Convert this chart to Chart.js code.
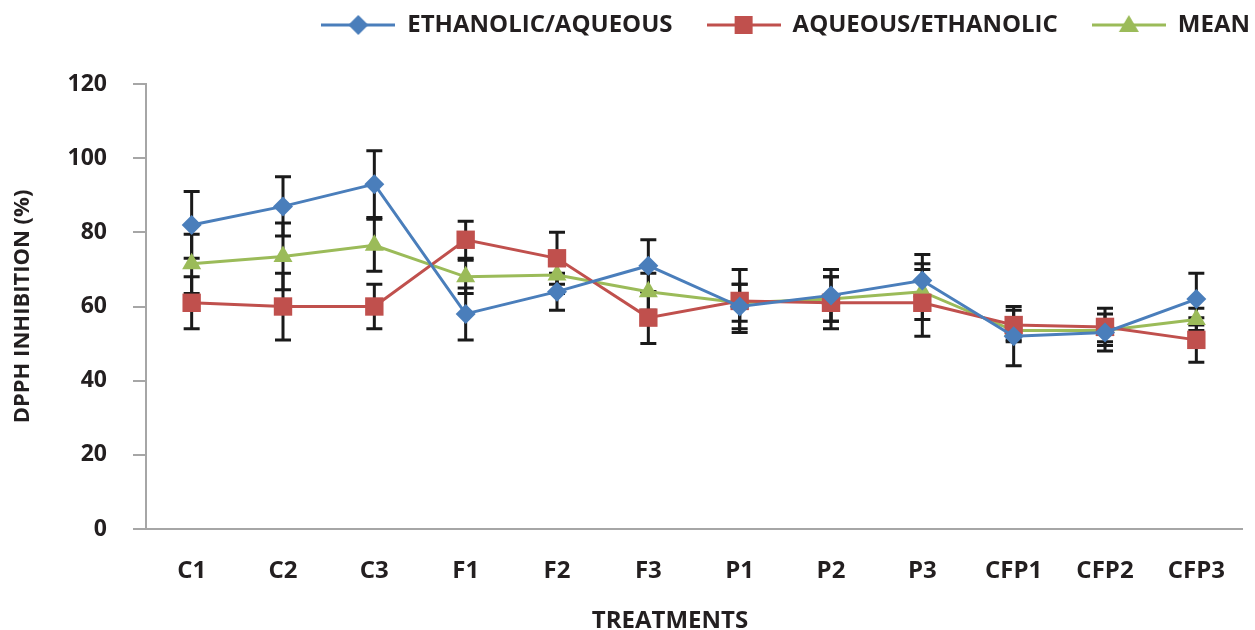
<!DOCTYPE html>
<html>
<head>
<meta charset="utf-8">
<script src="https://cdn.jsdelivr.net/npm/chart.js@4.4.1/dist/chart.umd.min.js"></script>
<style>
  html, body { margin: 0; padding: 0; background: #ffffff; }
  #wrap { width: 1255px; height: 630px; position: relative; }
</style>
</head>
<body>
<div id="wrap"><canvas id="dpph-chart"></canvas></div>
<script>
// Data
const treatments = ['C1', 'C2', 'C3', 'F1', 'F2', 'F3', 'P1', 'P2', 'P3', 'CFP1', 'CFP2', 'CFP3'];
const ethanolicAqueous = [82, 87, 93, 58, 64, 71, 60, 63, 67, 52, 53, 62];
const ethanolicAqueousErr = [9, 8, 9, 7, 5, 7, 6, 7, 7, 8, 5, 7];
const aqueousEthanolic = [61, 60, 60, 78, 73, 57, 61.5, 61, 61, 55, 54.5, 51];
const aqueousEthanolicErr = [7, 9, 6, 5, 7, 7, 8.5, 7, 9, 4, 5, 6];
const meanValues = [71.5, 73.5, 76.5, 68, 68.5, 64, 61, 62, 64, 53.5, 53.5, 56.5];
const meanErr = [8, 9, 7, 4.5, 5, 5, 5, 6, 7.5, 3, 3, 3];
const yTicks = [0, 20, 40, 60, 80, 100, 120];

const BLUE = '#4a7ebb';
const RED = '#c0504d';
const GREEN = '#9bbb59';
const TEXT = '#231f20';
const AXIS = '#a6a6a6';
const FONT = "'Open Sans', 'DejaVu Sans', sans-serif";

// small canvas with a line segment and the marker, used as legend symbol
function legendSwatch(color, shape) {
  const c = document.createElement('canvas');
  c.width = 74;
  c.height = 26;
  const ctx = c.getContext('2d');
  ctx.strokeStyle = color;
  ctx.fillStyle = color;
  ctx.lineWidth = 3;
  ctx.beginPath();
  ctx.moveTo(0, 13);
  ctx.lineTo(74, 13);
  ctx.stroke();
  ctx.beginPath();
  if (shape === 'diamond') {
    ctx.moveTo(37, 3); ctx.lineTo(47, 13); ctx.lineTo(37, 23); ctx.lineTo(27, 13);
  } else if (shape === 'square') {
    ctx.rect(28, 4, 18, 18);
  } else {
    ctx.moveTo(37, 3); ctx.lineTo(47, 20); ctx.lineTo(27, 20);
  }
  ctx.closePath();
  ctx.fill();
  return c;
}

const swatches = [legendSwatch(BLUE, 'diamond'), legendSwatch(RED, 'square'), legendSwatch(GREEN, 'triangle')];
const errors = [ethanolicAqueousErr, aqueousEthanolicErr, meanErr];

// draws the black error bars with caps under the markers
const errorBars = {
  id: 'errorBars',
  beforeDatasetsDraw(chart) {
    const ctx = chart.ctx;
    const y = chart.scales.y;
    ctx.save();
    ctx.strokeStyle = '#1a1a1a';
    ctx.lineWidth = 3;
    chart.data.datasets.forEach((ds, i) => {
      const meta = chart.getDatasetMeta(i);
      meta.data.forEach((pt, j) => {
        const v = ds.data[j];
        const e = errors[i][j];
        const top = y.getPixelForValue(v + e);
        const bottom = y.getPixelForValue(v - e);
        ctx.beginPath();
        ctx.moveTo(pt.x, top);
        ctx.lineTo(pt.x, bottom);
        ctx.moveTo(pt.x - 8, top);
        ctx.lineTo(pt.x + 8, top);
        ctx.moveTo(pt.x - 8, bottom);
        ctx.lineTo(pt.x + 8, bottom);
        ctx.stroke();
      });
    });
    ctx.restore();
  }
};

// the legend sits in the top right corner, above the plot
const legendShift = {
  id: 'legendShift',
  beforeInit(chart) {
    const legend = chart.legend;
    const draw = legend.draw;
    legend.draw = function () {
      chart.ctx.save();
      chart.ctx.translate(40, -37);
      draw.apply(this, arguments);
      chart.ctx.restore();
    };
  }
};

const ctx = document.getElementById('dpph-chart').getContext('2d');
const chart = new Chart(ctx, {
  type: 'line',
  data: {
    labels: treatments,
    datasets: [
      {
        label: 'ETHANOLIC/AQUEOUS',
        data: ethanolicAqueous,
        borderColor: BLUE,
        backgroundColor: BLUE,
        borderWidth: 3,
        pointStyle: 'rectRot',
        pointRadius: 10,
        pointBorderWidth: 0
      },
      {
        label: 'AQUEOUS/ETHANOLIC',
        data: aqueousEthanolic,
        borderColor: RED,
        backgroundColor: RED,
        borderWidth: 3,
        pointStyle: 'rect',
        pointRadius: 13,
        pointBorderWidth: 0
      },
      {
        label: 'MEAN',
        data: meanValues,
        borderColor: GREEN,
        backgroundColor: GREEN,
        borderWidth: 3,
        pointStyle: 'triangle',
        pointRadius: 11,
        pointBorderWidth: 0
      }
    ]
  },
  options: {
    responsive: true,
    maintainAspectRatio: false,
    animation: false,
    layout: {
      padding: { top: 16, right: 11, bottom: 0, left: 6 }
    },
    plugins: {
      legend: {
        position: 'top',
        align: 'end',
        labels: {
          usePointStyle: true,
          pointStyleWidth: 74,
          padding: 34,
          color: TEXT,
          font: { size: 24, weight: 'bold', family: FONT },
          generateLabels: function (chart) {
            return chart.data.datasets.map((ds, i) => ({
              text: ds.label,
              pointStyle: swatches[i],
              fontColor: TEXT,
              lineWidth: 0,
              hidden: false,
              datasetIndex: i
            }));
          }
        }
      },
      tooltip: { enabled: false }
    },
    scales: {
      x: {
        offset: true,
        grid: { display: false, drawTicks: false },
        border: { display: true, color: AXIS, width: 2 },
        ticks: {
          color: TEXT,
          padding: 28,
          font: { size: 24, weight: 'bold', family: FONT }
        },
        title: {
          display: true,
          text: 'TREATMENTS\u2003\u2003',
          color: TEXT,
          padding: { top: 0, bottom: -3 },
          font: { size: 24, weight: 'bold', family: FONT, lineHeight: 1 }
        },
        afterFit: function (axis) {
          axis.height = 101;
        }
      },
      y: {
        min: 0,
        max: 120,
        afterBuildTicks: function (axis) {
          axis.ticks = yTicks.map((v) => ({ value: v }));
        },
        grid: {
          drawOnChartArea: false,
          drawTicks: true,
          tickLength: 13,
          color: AXIS,
          lineWidth: 2
        },
        border: { display: true, color: AXIS, width: 2 },
        ticks: {
          color: TEXT,
          padding: 26,
          font: { size: 23, weight: 'bold', family: FONT }
        },
        title: {
          display: true,
          text: 'DPPH INHIBITION (%)',
          color: TEXT,
          padding: { top: 4, bottom: 4 },
          font: { size: 22, weight: 'bold', family: FONT }
        },
        afterFit: function (axis) {
          axis.width = 140;
        }
      }
    }
  },
  plugins: [errorBars, legendShift]
});
</script>
</body>
</html>
